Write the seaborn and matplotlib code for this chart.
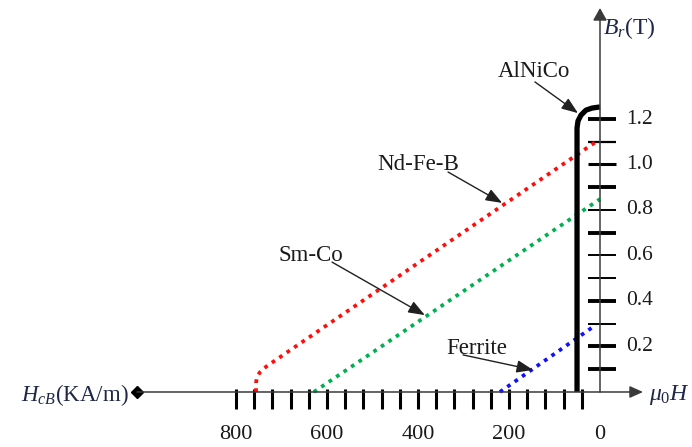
import matplotlib
matplotlib.use("Agg")
import matplotlib.pyplot as plt
import seaborn as sns

# Second-quadrant demagnetisation curves: H in kA/m (drawn leftwards), B in T
alnico_h = [50.5, 50.5, 48.4, 41.8, 30.8, 17.6, 0.0]
alnico_b = [0.0, 1.160, 1.191, 1.217, 1.239, 1.248, 1.253]
ndfeb_h = [756, 756, 754, 747, 738, 727, 6.6]
ndfeb_b = [0.0, 0.040, 0.066, 0.088, 0.105, 0.121, 1.103]
smco_h = [629, 0]
smco_b = [0.0, 0.848]
ferrite_h = [220, 9]
ferrite_b = [0.0, 0.295]

h_ticks = list(range(40, 801, 40))
h_tick_labels = [800, 600, 400, 200, 0]
b_ticks = [0.1, 0.2, 0.3, 0.4, 0.5, 0.6, 0.7, 0.8, 0.9, 1.0, 1.1, 1.2]
b_tick_labels = [0.2, 0.4, 0.6, 0.8, 1.0, 1.2]

materials = ["AlNiCo", "Nd-Fe-B", "Sm-Co", "Ferrite"]

sns.set_theme(style="white")
plt.rcParams["font.family"] = ["Liberation Serif", "DejaVu Serif"]
plt.rcParams["mathtext.fontset"] = "custom"
plt.rcParams["mathtext.rm"] = "Liberation Serif"
plt.rcParams["mathtext.it"] = "Liberation Serif:italic"
plt.rcParams["mathtext.bf"] = "Liberation Serif:bold"

fig = plt.figure(figsize=(6.92, 4.47), dpi=100)
ax = fig.add_axes([0, 0, 1, 1])
ax.set_xlim(1318.7, -202.2)
ax.set_ylim(-0.2418, 1.7231)
ax.axis("off")

ink = "#1a1a1a"
math_ink = "#1f2747"
axis_col = "#3a3a3a"

# coordinate axes with arrow heads
ax.annotate("", xy=(-94.5, 0), xytext=(1017.6, 0),
            arrowprops=dict(arrowstyle="-|>,head_length=0.8,head_width=0.36",
                            mutation_scale=10, color=axis_col, lw=1.1,
                            shrinkA=0, shrinkB=0))
ax.annotate("", xy=(0, 1.688), xytext=(0, 0),
            arrowprops=dict(arrowstyle="-|>,head_length=0.75,head_width=0.42",
                            mutation_scale=10, color=axis_col, lw=1.1,
                            shrinkA=0, shrinkB=0))
ax.plot([1017.6], [0], marker="D", ms=6.5, color="black")

# tick marks
ax.vlines(h_ticks, -0.075, 0.013, color="black", lw=2.2)
b_tick_widths = [2.8, 2.8, 1.4, 2.8, 1.4, 1.4, 2.8, 1.4, 2.8, 2.2, 1.6, 2.8]
for b, w in zip(b_ticks, b_tick_widths):
    ax.hlines(b, 26.4, -35.2, color="black", lw=w)

for v in b_tick_labels:
    ax.text(-58, v, f"{v:.1f}", ha="left", va="center", fontsize=15.5, color=ink)
for v in h_tick_labels:
    ax.text(v, -0.189, str(v), ha="center", va="center", fontsize=16, color=ink)

# axis titles
ax.text(1035, -0.013, r"$H_{cB}$(KA/m)", ha="right", va="center",
        fontsize=16.5, color=math_ink)
ax.text(-108, -0.013, r"$\mu_0H$", ha="left", va="center",
        fontsize=17, color=math_ink)
ax.text(-6.6, 1.60, r"$B_r$(T)", ha="left", va="center",
        fontsize=17, color=math_ink)

# curves
dot = (0, (1, 1.4))
sns.lineplot(x=ndfeb_h, y=ndfeb_b, sort=False, estimator=None, ax=ax,
             color="#ff0d0d", lw=2.7, linestyle=dot)
sns.lineplot(x=smco_h, y=smco_b, sort=False, estimator=None, ax=ax,
             color="#00b050", lw=2.7, linestyle=dot)
sns.lineplot(x=ferrite_h, y=ferrite_b, sort=False, estimator=None, ax=ax,
             color="#1010ff", lw=2.7, linestyle=dot)
sns.lineplot(x=alnico_h, y=alnico_b, sort=False, estimator=None, ax=ax,
             color="black", lw=3.8, solid_capstyle="butt")

# material labels with pointers
label_pos = [(145, 1.407), (400, 0.998), (635, 0.602), (272, 0.193)]
arrow_from = [(143, 1.363), (334, 0.967), (589, 0.571), (301, 0.163)]
arrow_to = [(48.4, 1.226), (215, 0.831), (385, 0.338), (147, 0.097)]
for name, (tx, ty), start, end in zip(materials, label_pos, arrow_from, arrow_to):
    ax.text(tx, ty, name, ha="center", va="center", fontsize=16.5, color=ink)
    ax.annotate("", xy=end, xytext=start,
                arrowprops=dict(arrowstyle="-|>,head_length=1.0,head_width=0.38",
                                mutation_scale=10, color="#202020", lw=1.0,
                                shrinkA=0, shrinkB=0))

fig.savefig("out.png", dpi=100)
